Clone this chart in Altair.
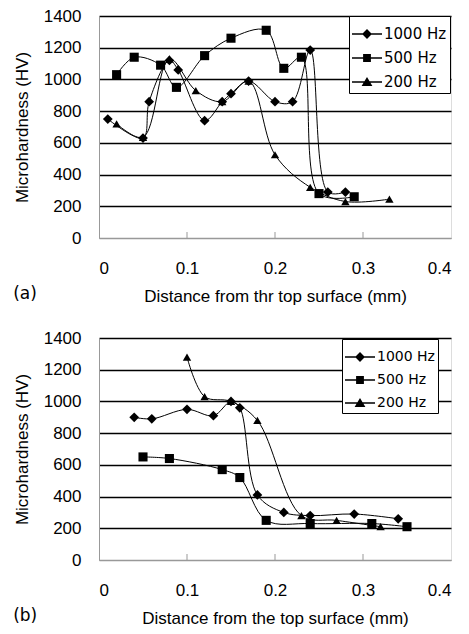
import altair as alt
import pandas as pd

# ---------------- data ----------------
series_names = ["1000 Hz", "500 Hz", "200 Hz"]

# panel (a)
a_1000_x = [0.01, 0.05, 0.057, 0.08, 0.09, 0.12, 0.14, 0.15, 0.17, 0.20, 0.22, 0.24, 0.26, 0.28]
a_1000_y = [750, 630, 860, 1120, 1060, 740, 860, 910, 990, 860, 860, 1185, 290, 290]
a_500_x = [0.02, 0.04, 0.07, 0.088, 0.12, 0.15, 0.19, 0.21, 0.23, 0.25, 0.29]
a_500_y = [1030, 1140, 1090, 950, 1150, 1260, 1310, 1070, 1140, 280, 260]
a_200_x = [0.02, 0.05, 0.08, 0.11, 0.14, 0.17, 0.20, 0.24, 0.28, 0.33]
a_200_y = [720, 635, 1130, 930, 860, 990, 525, 320, 230, 245]

# panel (b)
b_1000_x = [0.04, 0.06, 0.10, 0.13, 0.15, 0.16, 0.18, 0.21, 0.24, 0.29, 0.34]
b_1000_y = [900, 890, 950, 910, 1000, 960, 410, 300, 280, 290, 260]
b_500_x = [0.05, 0.08, 0.14, 0.16, 0.19, 0.24, 0.31, 0.35]
b_500_y = [650, 640, 570, 520, 250, 230, 230, 210]
b_200_x = [0.10, 0.12, 0.15, 0.18, 0.23, 0.27, 0.32]
b_200_y = [1280, 1030, 1000, 880, 280, 250, 210]

x_ticks = [0, 0.1, 0.2, 0.3, 0.4]
x_inner_ticks = [0.1, 0.2, 0.3]
y_ticks = [0, 200, 400, 600, 800, 1000, 1200, 1400]

title_a = "Distance from thr top surface (mm)"
title_b = "Distance from the top surface (mm)"
y_title = "Microhardness (HV)"

# ---------------- table ----------------
rows = []
for pid, sets in (
    ("a", [(a_1000_x, a_1000_y), (a_500_x, a_500_y), (a_200_x, a_200_y)]),
    ("b", [(b_1000_x, b_1000_y), (b_500_x, b_500_y), (b_200_x, b_200_y)]),
):
    for name, (xs, ys) in zip(series_names, sets):
        for xv, yv in zip(xs, ys):
            rows.append({"panel": pid, "series": name, "x": xv, "y": yv})
df = pd.DataFrame(rows)

FONT = "DejaVu Sans"
W, H = 352, 222

# legend symbols: short line through the marker (custom SVG paths in [-1,1])
legend_paths = [
    "M-1,-0.05H1V0.05H-1Z M0,-0.33L0.33,0L0,0.33L-0.33,0Z",
    "M-1,-0.05H1V0.05H-1Z M-0.26,-0.26H0.26V0.26H-0.26Z",
    "M-1,-0.05H1V0.05H-1Z M0,-0.34L0.36,0.26L-0.36,0.26Z",
]


def panel(pid, xtitle, tag, lx, ly, symsize, labsize, rowpad):
    d = df[df.panel == pid]
    base = alt.Chart(d).encode(
        x=alt.X(
            "x:Q",
            scale=alt.Scale(domain=[0, 0.4], nice=False, zero=False),
            axis=alt.Axis(
                values=x_ticks, format="~g", title=xtitle, grid=False, ticks=False,
                labelPadding=22, titlePadding=12, domainColor="#999999",
                labelFontSize=17, titleFontSize=17, titleFontWeight="normal",
            ),
        ),
        y=alt.Y(
            "y:Q",
            scale=alt.Scale(domain=[0, 1400], nice=False),
            axis=alt.Axis(
                values=y_ticks, format="d", title=y_title, grid=True,
                gridColor={"condition": {"test": "datum.value === 0", "value": "#999999"}, "value": "black"},
                gridWidth=1.3, ticks=False, labelPadding=18, titlePadding=12,
                domainColor="#999999", labelFontSize=17, titleFontSize=17,
                titleFontWeight="normal",
            ),
        ),
    )
    lines = base.mark_line(color="black", strokeWidth=1, interpolate="catmull-rom").encode(
        detail="series:N"
    )
    points = base.mark_point(filled=True, color="black", opacity=1).encode(
        shape=alt.Shape("series:N", scale=alt.Scale(domain=series_names,
                        range=["diamond", "square", "triangle-up"]), legend=None),
        size=alt.Size("series:N", scale=alt.Scale(domain=series_names, range=[95, 70, 95]),
                      legend=None),
    )
    leg = base.mark_point(filled=True, color="black", opacity=1, size=symsize).encode(
        shape=alt.Shape(
            "series:N",
            scale=alt.Scale(domain=series_names, range=legend_paths),
            legend=alt.Legend(
                title=None, orient="none", legendX=lx, legendY=ly,
                strokeColor="black", fillColor="white", padding=3,
                symbolSize=symsize, symbolFillColor="black", symbolStrokeWidth=0,
                symbolOpacity=1, labelFont=FONT, labelFontSize=labsize,
                labelColor="black", labelOffset=2, rowPadding=rowpad,
            ),
        )
    ).transform_filter("false")
    ticks = alt.Chart(pd.DataFrame({"x": x_inner_ticks})).mark_rule(
        color="#999999", strokeWidth=1
    ).encode(x="x:Q", y=alt.value(H), y2=alt.value(H - 6))

    return (
        alt.layer(lines, points, leg, ticks)
        .resolve_scale(shape="independent", size="independent")
        .properties(
            width=W, height=H,
            title=alt.TitleParams(
                tag, orient="bottom", anchor="start", frame="bounds",
                font=FONT, fontSize=17, fontWeight="normal", color="black", dy=-22,
            ),
        )
    )


top = panel("a", title_a, "(a)", 250, 0, 900, 15, 1)
bottom = panel("b", title_b, "(b)", 243, 1, 900, 14, 1)

chart = (
    alt.vconcat(top, bottom, spacing=23)
    .resolve_scale(shape="independent", size="independent")
    .properties(padding={"left": 12, "top": 6, "right": 5, "bottom": 2})
    .configure_view(stroke="#777777", strokeWidth=1)
    .configure_axis(labelFont=FONT, titleFont=FONT, labelColor="black", titleColor="black",
                    titleFontWeight="normal")
    .configure(background="white")
)

chart.save("out.html", embed_options={"renderer": "svg", "actions": False})
